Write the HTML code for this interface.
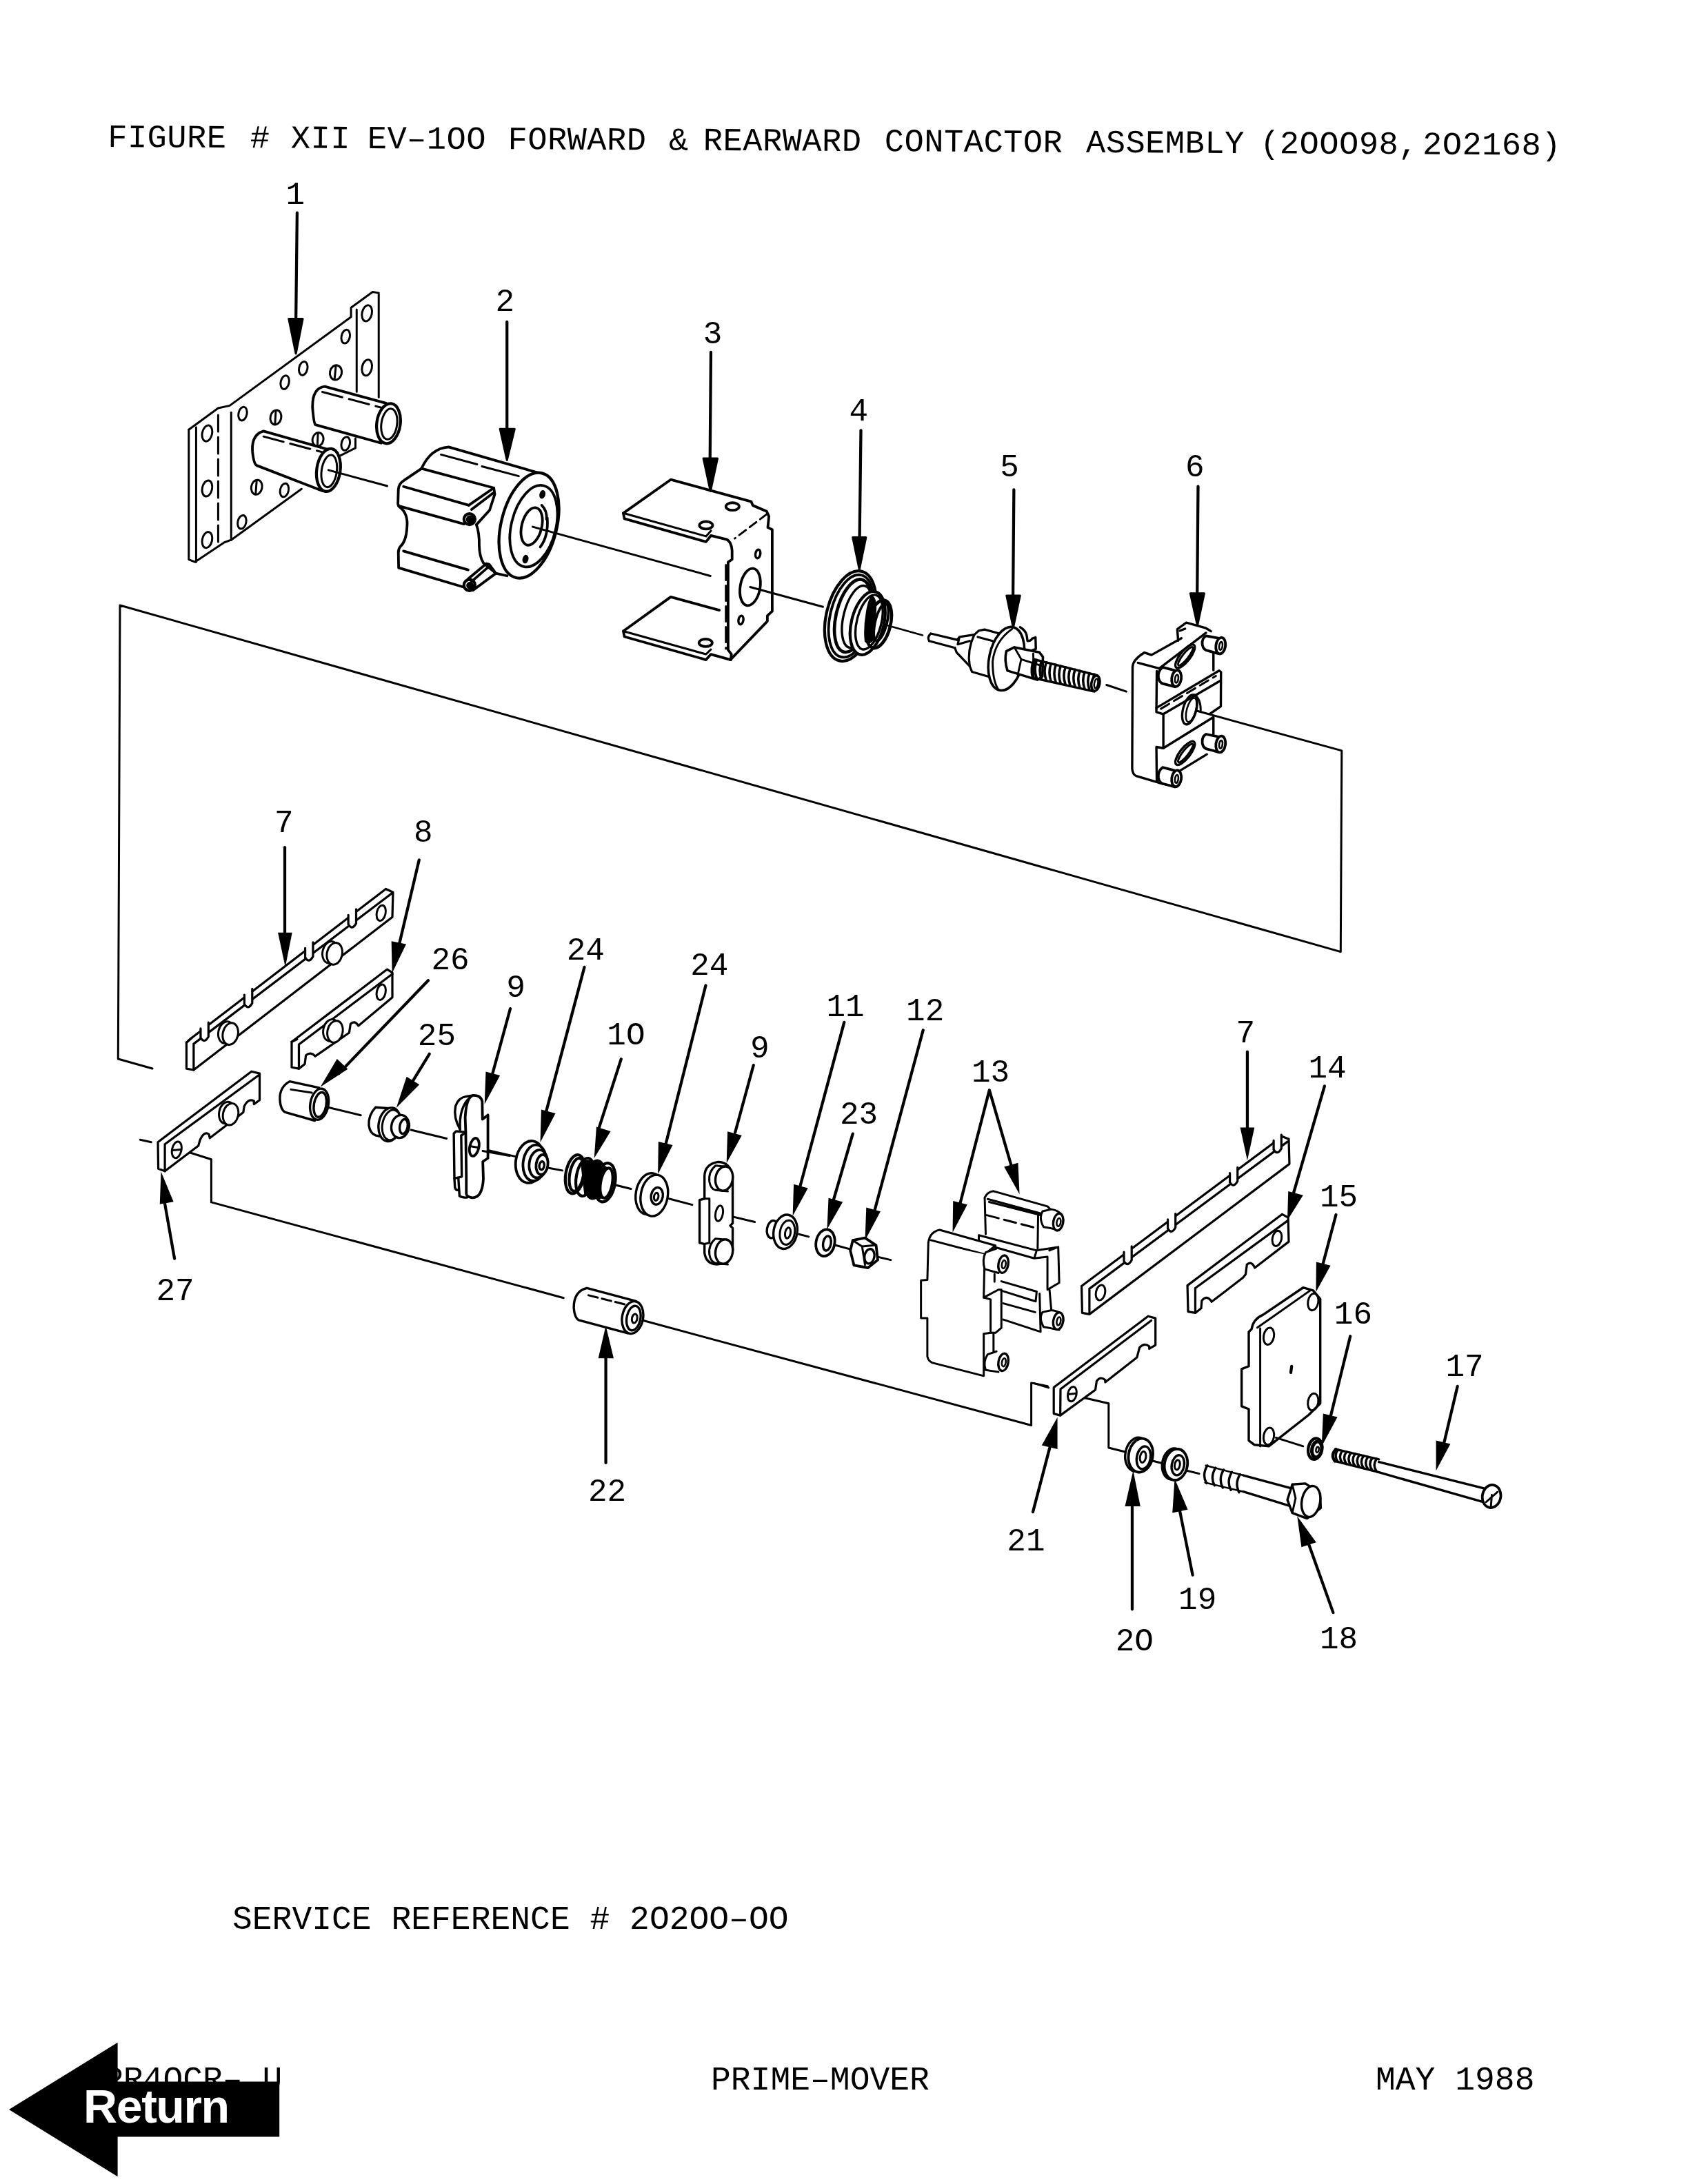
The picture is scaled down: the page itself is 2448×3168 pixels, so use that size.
<!DOCTYPE html>
<html><head><meta charset="utf-8">
<style>
html,body{margin:0;padding:0;background:#fff;}
body{width:2448px;height:3168px;position:relative;overflow:hidden;}
svg{position:absolute;left:0;top:0;will-change:transform;}
#drawing *{vector-effect:non-scaling-stroke}
.t{font-family:"Liberation Mono",monospace;fill:#000;}
</style></head><body>
<svg width="2448" height="3168" viewBox="0 0 2448 3168">
<g class="t" font-size="47">
<text x="156.2" y="213" transform="rotate(0.315 158 213)" letter-spacing="0.5"><tspan x="156.2">FIGURE</tspan><tspan x="362.8">#</tspan><tspan x="421.8">XII</tspan><tspan x="532.7">EV–1OO</tspan><tspan x="736.5">FORWARD</tspan><tspan x="970">&amp;</tspan><tspan x="1019.8">REARWARD</tspan><tspan x="1282.9">CONTACTOR</tspan><tspan x="1575">ASSEMBLY</tspan><tspan x="1827.2">(2OOO98,</tspan><tspan x="2063">2O2168)</tspan></text>
<text x="337" y="2798" font-size="48">SERVICE REFERENCE # 2O2OO–OO</text>
<text x="150" y="3031" font-size="48">PR4OCR– U</text>
<text x="1031" y="3031" font-size="48">PRIME–MOVER</text>
<text x="1995" y="3031" font-size="48">MAY 1988</text>
</g>
<!-- DRAWING -->
<g id="drawing" fill="none" stroke="#000" stroke-width="3" stroke-linecap="round" stroke-linejoin="round">

<!-- frames -->
<path d="M221 1550 L171.3 1536 L174 878 L1944.3 1380.6 L1945.8 1088.9 L1735.4 1031"/>
<path d="M272.6 1671 L306.4 1681.7 L306.4 1743.9 L817.3 1882.7"/>

<path d="M934 1915.8 L1495.6 2067.5 L1495.6 2005.9 L1519.3 2010.6"/>
<path d="M1562.2 2025.3 L1607.8 2035.7 L1607.8 2100 L1632.7 2106.2"/>

<!-- part 1 (tile A: 240,250 s=600/1688) -->
<g transform="translate(240,250) scale(0.35545)">
<path d="M537 165 L532 610" stroke-width="4.25"/>
<path d="M503 598 L560 598 L532 740 Z" fill="#000"/>
<path d="M95 1050 L215 962 L262 952 L757 590 L757 552 L845 488 L870 492 L870 918"/>
<path d="M780 560 L780 895 M775 1085 L775 1125 L705 1160"/>
<path d="M95 1050 L95 1580 L120 1590 L240 1510 L268 1500 L555 1292"/>
<path d="M125 1040 L125 1590"/>
<path d="M215 990 L215 1510" stroke-dasharray="24 8"/>
<path d="M268 980 L268 1500"/>
<g stroke-width="2.98">
<ellipse cx="315" cy="985" rx="17" ry="28" transform="rotate(12 315 985)"/>
<ellipse cx="450" cy="1000" rx="22" ry="30" transform="rotate(12 450 1000)"/>
<ellipse cx="487" cy="857" rx="17" ry="28" transform="rotate(12 487 857)"/>
<ellipse cx="562" cy="800" rx="17" ry="28" transform="rotate(12 562 800)"/>
<ellipse cx="695" cy="817" rx="24" ry="30" transform="rotate(12 695 817)"/>
<ellipse cx="735" cy="670" rx="17" ry="28" transform="rotate(12 735 670)"/>
<ellipse cx="622" cy="1090" rx="22" ry="28" transform="rotate(12 622 1090)"/>
<ellipse cx="735" cy="1107" rx="17" ry="28" transform="rotate(12 735 1107)"/>
<ellipse cx="372" cy="1285" rx="22" ry="30" transform="rotate(12 372 1285)"/>
<ellipse cx="485" cy="1297" rx="17" ry="28" transform="rotate(12 485 1297)"/>
<ellipse cx="312" cy="1427" rx="17" ry="28" transform="rotate(12 312 1427)"/>
<ellipse cx="822" cy="575" rx="20" ry="33" transform="rotate(12 822 575)"/>
<ellipse cx="822" cy="797" rx="20" ry="33" transform="rotate(12 822 797)"/>
<ellipse cx="170" cy="1065" rx="20" ry="33" transform="rotate(12 170 1065)"/>
<ellipse cx="170" cy="1290" rx="20" ry="33" transform="rotate(12 170 1290)"/>
<ellipse cx="170" cy="1500" rx="20" ry="33" transform="rotate(12 170 1500)"/>
<path d="M450 975 L447 1025 M695 792 L690 842 M622 1065 L620 1112 M372 1258 L368 1310"/>
</g>
<!-- upper cylinder -->
<path d="M900 942 L650 874 Q598 880 600 960 Q605 1025 612 1030 L880 1105" fill="#fff" stroke-width="3.82"/>
<ellipse cx="910" cy="1025" rx="48" ry="82" transform="rotate(8 910 1025)" fill="#fff" stroke-width="4.25"/>
<ellipse cx="913" cy="1027" rx="32" ry="63" transform="rotate(8 912 1025)"/>
<path d="M640 896 L880 960" stroke-dasharray="30 10"/>
<!-- lower cylinder -->
<path d="M660 1130 L400 1056 Q350 1070 355 1140 Q360 1190 372 1196 L640 1300" fill="#fff" stroke-width="3.82"/>
<ellipse cx="665" cy="1215" rx="48" ry="88" transform="rotate(8 665 1215)" fill="#fff" stroke-width="4.25"/>
<ellipse cx="668" cy="1219" rx="31" ry="66" transform="rotate(8 667 1217)"/>
<path d="M400 1078 L640 1142" stroke-dasharray="30 10"/>
<path d="M665 1215 L905 1280"/>
</g>

<!-- part 2 (tile B) -->
<g transform="translate(560,600) scale(0.20142)">
<path d="M870 -661 L870 110" stroke-width="4.25"/>
<path d="M820 110 L925 110 L870 335 Z" fill="#000"/>
<path d="M255 395 Q320 250 450 240 L1090 425" stroke-width="3.82"/>
<path d="M395 295 L655 365 M690 380 L955 450"/>
<path d="M255 395 L775 535" stroke-width="3.82"/>
<path d="M255 395 L130 480 Q90 505 88 545 L85 650 Q88 668 100 675 Q160 720 150 820 Q145 920 100 960 Q88 975 88 1000 L90 1110 L560 1250" stroke-width="3.82"/>
<path d="M125 525 L595 660 M90 665 L560 795 M125 990 L590 1125" stroke-width="3.82"/>
<path d="M595 660 L775 535 L782 580 L745 695 L650 800 M615 690 L770 572" stroke-width="3.82"/>
<circle cx="600" cy="760" r="40" stroke-width="4.25"/>
<circle cx="604" cy="762" r="22" fill="#000"/>
<path d="M650 800 Q672 860 670 950 Q672 1030 700 1075 L790 1150 L870 1168" stroke-width="3.82"/>
<path d="M590 1190 L722 1080 L742 1085 L790 1150 L625 1272 M612 1212 L732 1108" stroke-width="3.82"/>
<circle cx="600" cy="1235" r="40" stroke-width="4.25"/>
<circle cx="604" cy="1238" r="20" fill="#000"/>
<ellipse cx="1028" cy="805" rx="200" ry="388" transform="rotate(14 1028 805)" fill="#fff" stroke-width="4.25"/>
<ellipse cx="1062" cy="810" rx="160" ry="300" transform="rotate(14 1062 810)" stroke-width="3.82"/>
<ellipse cx="1048" cy="812" rx="72" ry="138" transform="rotate(14 1048 812)" stroke-width="3.82"/>
<path d="M1120 660 Q1160 700 1155 760 M1160 750 Q1170 880 1110 960" stroke-width="3.82"/>
<ellipse cx="1125" cy="582" rx="14" ry="24" transform="rotate(14 1125 582)" fill="#000"/>
<ellipse cx="1003" cy="1048" rx="14" ry="24" transform="rotate(14 1003 1048)" fill="#000"/>
<path d="M1055 815 L2335 1169"/>
</g>

<!-- part 3,4 (tile C) -->
<g transform="translate(800,450) scale(0.31991)">
<path d="M722 190 L718 680" stroke-width="4.25"/>
<path d="M688 672 L752 672 L720 820 Z" fill="#000"/>
<path d="M900 1255 L1230 1345"/>
<path d="M325 920 L540 768 L905 868 L912 885 L975 912 L985 935 L980 985 L1000 995 L1000 1365 L978 1385 L978 1410 L810 1585" stroke-width="3.82"/>
<path d="M325 920 L330 945 L700 1050 L722 1022 L795 1040 Q815 1050 818 1090 L818 1130 L800 1142 L800 1540 L815 1560 L812 1585" stroke-width="3.82"/>
<path d="M325 920 L700 1025 L722 1000" />
<path d="M975 925 L830 1035" stroke-dasharray="12 7"/>
<path d="M790 1155 L790 1535" stroke-dasharray="22 8"/>
<path d="M720 1205 L720 1020" stroke="none"/>
<path d="M325 1455 L540 1300 L760 1360" stroke-width="3.82"/>
<path d="M325 1455 L330 1480 L700 1585 L722 1560 L812 1585" stroke-width="3.82"/>
<path d="M325 1455 L700 1560 L722 1538"/>
<ellipse cx="820" cy="890" rx="30" ry="17" stroke-width="3.82"/>
<ellipse cx="700" cy="975" rx="30" ry="17" stroke-width="3.82"/>
<ellipse cx="698" cy="1508" rx="30" ry="17" stroke-width="3.82"/>
<ellipse cx="935" cy="1105" rx="11" ry="20" transform="rotate(10 935 1105)" stroke-width="3.40"/>
<ellipse cx="900" cy="1255" rx="45" ry="85" transform="rotate(10 900 1255)" stroke-width="3.82"/>
<ellipse cx="858" cy="1405" rx="11" ry="20" transform="rotate(10 858 1405)" stroke-width="3.40"/>
<path d="M1402 545 L1396 1030" stroke-width="4.25"/>
<path d="M1365 1030 L1425 1030 L1395 1175 Z" fill="#000"/>
</g>

<!-- part 4 (tile P4: 1190,820 s=1/14.067) -->
<g transform="translate(1190,820) scale(0.071089)">
<ellipse cx="610" cy="1035" rx="490" ry="940" transform="rotate(14 610 1035)" fill="#fff" stroke-width="4.25"/>
<ellipse cx="625" cy="1035" rx="425" ry="860" transform="rotate(14 625 1035)" stroke-width="3.82"/>
<ellipse cx="660" cy="1030" rx="340" ry="760" transform="rotate(14 660 1030)" stroke-width="4.67"/>
<ellipse cx="745" cy="1050" rx="275" ry="650" transform="rotate(14 745 1050)" stroke-width="3.40"/>
<ellipse cx="960" cy="1180" rx="330" ry="660" transform="rotate(14 960 1180)" fill="#fff" stroke-width="4.25"/>
<ellipse cx="990" cy="1160" rx="250" ry="570" transform="rotate(14 990 1160)" stroke-width="3.40"/>
<path d="M1040 620 Q1150 640 1140 900 L1100 1500 Q1000 1650 900 1560 Q870 1300 920 1000 Q960 700 1040 620 Z" fill="#000" stroke="none"/>
<ellipse cx="1190" cy="1200" rx="235" ry="500" transform="rotate(14 1190 1200)" stroke-width="4.67"/>
<ellipse cx="1235" cy="1160" rx="120" ry="390" transform="rotate(14 1235 1160)" stroke-width="3.82"/>
<path d="M1380 1230 L2082 1428" stroke-width="2.55"/>
</g>

<!-- part 5,6 (tile D) -->
<g transform="translate(1320,640) scale(0.31991)">
<path d="M470 220 L466 700" stroke-width="4.25"/>
<path d="M437 700 L498 700 L467 845 Z" fill="#000"/>
<path d="M1305 205 L1301 690" stroke-width="4.25"/>
<path d="M1270 690 L1333 690 L1302 835 Z" fill="#000"/>
<path d="M890 1105 L980 1135"/>
</g>

<!-- part 5 (tile P5: 1340,880 s=0.16588) -->
<g transform="translate(1340,880) scale(0.16588)" stroke-width="3.23">
<path d="M60 235 L290 290 M45 300 L270 360 M60 235 Q25 265 45 300"/>
<path d="M290 290 L310 265 L440 245 M270 360 L285 400 L400 520 M310 265 L295 330 L400 300"/>
<path d="M440 245 L480 210 L530 200 L660 235 M440 245 Q375 380 400 520 L420 570 L565 612 M470 265 L600 300"/>
<ellipse cx="720" cy="455" rx="150" ry="282" transform="rotate(12 720 455)" fill="#fff" stroke-width="3.57"/>
<path d="M770 195 Q620 300 600 480 Q600 650 650 725" stroke-width="2.89"/>
<path d="M840 180 Q885 205 898 250 L905 300 Q935 300 945 280 L975 268 L978 370 L945 382" fill="#fff" stroke-width="3.40"/>
<path d="M720 390 L790 355 L1010 400 L1040 440 L1035 610 L990 640 L730 560 Q700 470 720 390 Z" fill="#fff" stroke-width="3.57"/>
<path d="M790 355 L850 460 L820 595 M850 460 L1040 520 M955 410 L960 620" stroke-width="2.89"/>
<path d="M960 460 L1515 600 M950 622 L1490 742" stroke-width="3.40"/>
<path d="M985 466 Q957 546 985 626 M1027 477 Q999 556 1027 635 M1069 487 Q1041 566 1069 644 M1111 498 Q1083 575 1111 654 M1153 508 Q1125 585 1153 663 M1195 519 Q1167 595 1195 672 M1237 529 Q1209 605 1237 681 M1279 540 Q1251 615 1279 691 M1321 550 Q1293 625 1321 700 M1363 561 Q1335 635 1363 709 M1405 571 Q1377 645 1405 719 M1447 582 Q1419 654 1447 728 M1489 592 Q1461 664 1489 737" stroke-width="3.57"/>
<path d="M965 462 Q930 540 952 620" stroke-width="4.25"/>
<ellipse cx="1500" cy="670" rx="36" ry="68" transform="rotate(10 1500 670)" fill="#fff" stroke-width="3.57"/>
<ellipse cx="1505" cy="672" rx="16" ry="42" transform="rotate(10 1505 672)" stroke-width="2.55"/>
</g>

<!-- part 6 (tile D6: 1630,890 s=1/8.4) -->
<g transform="translate(1630,890) scale(0.119048)">
<path d="M105 650 Q110 560 250 475 L335 505 L700 300 M660 330 L650 190 L760 110 L1000 178 L1060 215" stroke-width="3.40"/>
<path d="M170 600 L430 668 L1000 235 M680 210 L745 185" stroke-width="3.40"/>
<path d="M105 650 L100 1890 Q105 1960 150 1980 L420 2060 L640 2110" stroke-width="3.40"/>
<path d="M400 700 L395 1200 L480 1225 L480 1640 L395 1625 L400 2050" stroke-width="3.40"/>
<path d="M395 1150 L1160 695 L1182 712 L1180 1130 L1050 1220 M480 1225 L1180 815" stroke-width="3.40"/>
<path d="M450 1160 L1120 760" stroke-dasharray="14 8" stroke-width="2.98"/>
<path d="M480 1640 L1090 1262 L1090 1470 M1090 480 L1090 690 M1010 1715 L690 1910" stroke-width="3.40"/>
<ellipse cx="800" cy="1170" rx="80" ry="185" transform="rotate(15 800 1170)" stroke-width="3.40"/>
<ellipse cx="820" cy="1175" rx="55" ry="150" transform="rotate(15 820 1175)" stroke-width="2.55"/>
<path d="M860 990 Q935 1040 935 1180" stroke-width="2.98"/>

<ellipse cx="745" cy="520" rx="62" ry="175" transform="rotate(38 745 520)" stroke-width="3.40"/>
<ellipse cx="750" cy="520" rx="35" ry="140" transform="rotate(38 750 520)" stroke-width="2.98"/>
<ellipse cx="745" cy="1700" rx="62" ry="175" transform="rotate(38 745 1700)" stroke-width="3.40"/>
<ellipse cx="750" cy="1700" rx="35" ry="140" transform="rotate(38 750 1700)" stroke-width="2.98"/>
<g stroke-width="3.82">
<path d="M1150 300 L1000 272 Q945 300 955 380 Q965 445 1030 455 L1150 488" fill="#fff"/>
<ellipse cx="1178" cy="392" rx="58" ry="100" transform="rotate(8 1178 392)" fill="#fff"/>
<ellipse cx="1180" cy="395" rx="20" ry="50" transform="rotate(8 1180 395)" stroke-width="2.55"/>
<path d="M610 690 L470 655 Q410 700 420 780 Q430 845 480 855 L620 892" fill="#fff"/>
<ellipse cx="640" cy="790" rx="58" ry="100" transform="rotate(8 640 790)" fill="#fff"/>
<ellipse cx="642" cy="795" rx="20" ry="50" transform="rotate(8 642 795)" stroke-width="2.55"/>
<path d="M1150 1500 L1000 1470 Q945 1500 955 1580 Q965 1645 1030 1655 L1150 1688" fill="#fff"/>
<ellipse cx="1178" cy="1592" rx="58" ry="100" transform="rotate(8 1178 1592)" fill="#fff"/>
<ellipse cx="1180" cy="1595" rx="20" ry="50" transform="rotate(8 1180 1595)" stroke-width="2.55"/>
<path d="M610 1910 L470 1875 Q410 1920 420 2000 Q430 2065 480 2075 L620 2112" fill="#fff"/>
<ellipse cx="640" cy="2010" rx="58" ry="100" transform="rotate(8 640 2010)" fill="#fff"/>
<ellipse cx="642" cy="2015" rx="20" ry="50" transform="rotate(8 642 2015)" stroke-width="2.55"/>
</g>
</g>

<!-- tile E: parts 7,8,26,25,9a,27 -->
<g transform="translate(150,1280) scale(0.35545)" stroke-width="2.98">
<path d="M740 -143 L740 210" stroke-width="4.25"/>
<path d="M712 205 L770 205 L742 345 Z" fill="#000" stroke="none"/>
<path d="M1288 -92 L1205 260" stroke-width="4.25"/>
<path d="M1175 240 L1235 252 L1178 370 Z" fill="#000" stroke="none"/>
<path d="M1325 400 L960 780" stroke-width="4.25"/>
<path d="M997 762 L953 720 L885 835 Z" fill="#000" stroke="none"/>
<path d="M1330 700 L1235 855" stroke-width="4.25"/>
<path d="M1289 825 L1237 793 L1195 920 Z" fill="#000" stroke="none"/>
<path d="M1660 515 L1585 790" stroke-width="4.25"/>
<path d="M1618 788 L1560 772 L1555 905 Z" fill="#000" stroke="none"/>
<path d="M290 1535 L245 1280" stroke-width="4.25"/>
<path d="M286 1303 L230 1313 L235 1180 Z" fill="#000" stroke="none"/>
<path d="M150 1050 L195 1060 M905 915 L1050 950 M1255 1010 L1400 1045 M1535 1085 L1688 1120"/>
<!-- part 7 -->
<g stroke-width="3.23">
<path d="M338.8 653.3 L338.8 760 L368.2 765.3 L1178.8 141.3 L1181.5 40 L1152.1 26.7 L360.2 634.6 Z" fill="#fff"/>
<path d="M368.2 658.6 L1178.8 42.7 M368.2 658.6 L368.2 765.3 M338.8 653.3 L360.2 634.6"/>
<path d="M396.5 587.7 L396.5 633.7 Q411.5 659.7 428.5 629.7 L428.5 563.7 Z" fill="#fff" stroke="none"/><path d="M575.1 450.6 L575.1 496.6 Q590.1 522.6 607.1 492.6 L607.1 426.6 Z" fill="#fff" stroke="none"/><path d="M823.1 260.2 L823.1 306.2 Q838.1 332.2 855.1 302.2 L855.1 236.2 Z" fill="#fff" stroke="none"/><path d="M999.1 125.1 L999.1 171.1 Q1014.1 197.1 1031.1 167.1 L1031.1 101.1 Z" fill="#fff" stroke="none"/>
<path d="M396.5 595.7 L396.5 633.7 Q411.5 659.7 428.5 629.7 L428.5 571.7"/><path d="M575.1 458.6 L575.1 496.6 Q590.1 522.6 607.1 492.6 L607.1 434.6"/><path d="M823.1 268.2 L823.1 306.2 Q838.1 332.2 855.1 302.2 L855.1 244.2"/><path d="M999.1 133.1 L999.1 171.1 Q1014.1 197.1 1031.1 167.1 L1031.1 109.1"/>
</g>
<ellipse cx="500" cy="612" rx="31" ry="45" transform="rotate(12 500 612)" fill="#fff"/>
<ellipse cx="518" cy="618" rx="31" ry="45" transform="rotate(12 518 618)" fill="#fff"/>
<ellipse cx="925" cy="285" rx="31" ry="45" transform="rotate(12 925 285)" fill="#fff"/>
<ellipse cx="943" cy="291" rx="31" ry="45" transform="rotate(12 943 291)" fill="#fff"/>
<ellipse cx="1133" cy="125" rx="18" ry="32" transform="rotate(12 1133 125)"/>
<!-- part 8 -->
<g stroke-width="3.23">
<path d="M768.1 650.6 L768.1 754.6 L797.5 760 L821.5 741.3 L826 706 Q845 688 864.2 709.3 L1002.8 613.3 L1008 578 Q1025 560 1040.1 585 L1178.8 469.3 L1178.8 368 L1157.5 354.6 Z" fill="#fff"/>
<path d="M797.5 661.3 L1178.8 373.3 M797.5 661.3 L797.5 760 M768.1 650.6 L790 640"/>
</g>
<ellipse cx="928" cy="603" rx="31" ry="45" transform="rotate(12 928 603)" fill="#fff"/>
<ellipse cx="945" cy="609" rx="31" ry="45" transform="rotate(12 945 609)" fill="#fff"/>
<ellipse cx="1133" cy="448" rx="18" ry="32" transform="rotate(12 1133 448)"/>
<!-- part 27 -->
<g stroke-width="3.23">
<path d="M222.3 1059.8 L224 1168.2 L250.7 1178.2 L387.3 1074.8 L394 1051.5 Q412 1012 430.7 1028.2 L434 1043.2 L570.7 938.2 L574 914.8 Q590 880 614 891.5 L614 904.8 L637.3 888.2 L637.3 779.8 L604 771.5 Z" fill="#fff"/>
<path d="M250.7 1068.2 L634 786.5 M250.7 1069.8 L250.7 1178.2"/>
</g>
<ellipse cx="503" cy="940" rx="31" ry="45" transform="rotate(12 503 940)" fill="#fff"/>
<ellipse cx="519" cy="946" rx="31" ry="45" transform="rotate(12 519 946)" fill="#fff"/>
<ellipse cx="299" cy="1091" rx="19" ry="34" transform="rotate(12 299 1091)"/>
<path d="M282 1093 L316 1090"/>
<!-- part 26 -->
<path d="M880 838 L760 812 Q718 835 720 885 Q722 928 742 938 L862 972" fill="#fff" stroke-width="3.40"/>
<ellipse cx="881" cy="905" rx="37" ry="64" transform="rotate(10 881 905)" fill="#fff" stroke-width="3.40"/>
<ellipse cx="884" cy="907" rx="25" ry="51" transform="rotate(10 884 907)" stroke-width="3.40"/>
<path d="M765 845 L850 858"/>
<!-- part 25 -->
<path d="M1165 922 L1110 918 Q1080 950 1083 992 Q1088 1025 1110 1032 L1165 1045" fill="#fff" stroke-width="3.40"/>
<ellipse cx="1168" cy="988" rx="45" ry="69" transform="rotate(10 1168 988)" fill="#fff" stroke-width="3.40"/>
<ellipse cx="1176" cy="990" rx="38" ry="62" transform="rotate(10 1176 990)"/>
<ellipse cx="1211" cy="996" rx="36" ry="47" transform="rotate(10 1211 996)" fill="#fff" stroke-width="3.40"/>
<ellipse cx="1225" cy="996" rx="16" ry="30" transform="rotate(10 1225 996)" stroke-width="3.40"/>
</g>

<!-- part 9a (tile P9: 640,1570 s=0.082418) -->
<g transform="translate(640,1570) scale(0.082418)" stroke-width="3.40">
<path d="M330 830 Q210 620 250 420 Q300 270 430 250 L560 230" fill="#fff"/>
<path d="M330 830 Q310 480 470 300" />
<path d="M230 1690 L240 1850 Q255 1905 300 1895 M300 1680 L320 2000 Q360 2035 460 2025" fill="#fff"/>
<path d="M220 900 L260 860 L440 880 L350 935 L360 1660 L230 1690 L220 900 Z" fill="#fff"/>
<path d="M430 880 L420 620 Q440 260 560 230 Q700 225 720 340 L725 650 L820 575 L820 1335 L730 1395 L740 1700 Q720 2040 540 2030 Q440 2010 440 1960 L440 1650 Z" fill="#fff" stroke-width="3.82"/>
<ellipse cx="580" cy="1140" rx="80" ry="160" transform="rotate(12 580 1140)" stroke-width="3.82"/>
<path d="M520 1125 L660 1150" stroke-width="2.98"/>
</g>

<!-- part 13 (tile G13: 1320,1720 s=0.14218) -->
<g transform="translate(1320,1720) scale(0.14218)" stroke-width="2.98">
<!-- rear block -->
<path d="M760 120 Q790 60 850 55 L1400 210 L1435 245 M760 120 L770 495 M790 135 L1340 285 M805 165 L1330 300 M1305 290 L1300 640"/>
<path d="M780 300 L1300 435" stroke-dasharray="18 8"/>
<path d="M700 505 L1290 660 L1265 740 L700 580 Z M1290 660 L1510 625 L1520 990 L1400 1060 L1400 725 L1265 740 M1510 625 L1420 660"/>
<path d="M930 975 L1290 1080 L1280 1180 L930 1070 M1320 1100 L1330 1490 L950 1365 M950 1200 L1275 1290 M1420 1050 L1440 1275"/>
<path d="M1350 260 L1440 240 Q1560 260 1560 360 L1520 450 L1360 420 Q1310 330 1350 260 Z" fill="#fff"/>
<ellipse cx="1510" cy="370" rx="50" ry="88" transform="rotate(10 1510 370)" fill="#fff" stroke-width="3.40"/>
<ellipse cx="1515" cy="372" rx="20" ry="42" transform="rotate(10 1515 372)" stroke-width="2.55"/>
<path d="M1350 1290 L1440 1270 Q1560 1280 1560 1380 L1520 1470 L1360 1440 Q1310 1350 1350 1290 Z" fill="#fff"/>
<ellipse cx="1510" cy="1380" rx="50" ry="88" transform="rotate(10 1510 1380)" fill="#fff" stroke-width="3.40"/>
<ellipse cx="1515" cy="1382" rx="20" ry="42" transform="rotate(10 1515 1382)" stroke-width="2.55"/>
<!-- front block -->
<path d="M185 580 Q200 470 300 450 L870 610 L760 700 L210 555" fill="#fff"/>
<path d="M185 580 L175 960 L110 965 L110 1350 L175 1350 L175 1740 Q185 1800 250 1812 L750 1940 L750 1510 L820 1500 L820 1160 L750 1140 L760 700" fill="#fff"/>
<path d="M750 1140 L900 1060 L930 1060 L930 1450 L870 1500 L820 1500 M850 1505 L850 1690 M860 900 L860 980"/>
<path d="M880 640 L770 680 Q730 760 760 850 L900 890" fill="#fff"/>
<ellipse cx="950" cy="800" rx="50" ry="90" transform="rotate(10 950 800)" fill="#fff" stroke-width="3.40"/>
<ellipse cx="955" cy="802" rx="20" ry="42" transform="rotate(10 955 802)" stroke-width="2.55"/>
<path d="M880 1690 L790 1720 Q740 1800 770 1880 L900 1900" fill="#fff"/>
<ellipse cx="950" cy="1800" rx="50" ry="90" transform="rotate(10 950 1800)" fill="#fff" stroke-width="3.40"/>
<ellipse cx="955" cy="1802" rx="20" ry="42" transform="rotate(10 955 1802)" stroke-width="2.55"/>
</g>

<!-- tile F: parts 24a,10,24b,9b,11,23,12 -->
<g transform="translate(700,1330) scale(0.35545)" stroke-width="2.98">
<path d="M0 955 L110 975 M270 1025 L325 1035 M545 1095 L605 1110 M760 1150 L855 1175 M985 1215 L1110 1245 M1290 1295 L1330 1305 M1440 1340 L1495 1355 M1600 1385 L1665 1400"/>
<path d="M415 205 L255 810" stroke-width="4.25"/>
<path d="M297 802 L239 786 L235 920 Z" fill="#000" stroke="none"/>
<path d="M565 580 L475 860" stroke-width="4.25"/>
<path d="M522 875 L464 857 L455 985 Z" fill="#000" stroke="none"/>
<path d="M910 280 L745 935" stroke-width="4.25"/>
<path d="M775 931 L717 917 L715 1050 Z" fill="#000" stroke="none"/>
<path d="M1105 605 L1030 880" stroke-width="4.25"/>
<path d="M1057 892 L999 876 L995 1005 Z" fill="#000" stroke="none"/>
<path d="M1475 430 L1295 1100" stroke-width="4.25"/>
<path d="M1327 1107 L1269 1091 L1265 1220 Z" fill="#000" stroke="none"/>
<path d="M1510 885 L1430 1160" stroke-width="4.25"/>
<path d="M1469 1163 L1411 1147 L1405 1275 Z" fill="#000" stroke="none"/>
<path d="M1797 462 L1600 1195" stroke-width="4.25"/>
<path d="M1623 1202 L1565 1186 L1560 1320 Z" fill="#000" stroke="none"/>
<!-- 24a -->
<ellipse cx="193" cy="1000" rx="58" ry="86" transform="rotate(8 193 1000)" fill="#fff" stroke-width="3.82"/>
<ellipse cx="212" cy="1004" rx="47" ry="74" transform="rotate(8 212 1004)" fill="#fff" stroke-width="3.82"/>
<ellipse cx="227" cy="1008" rx="37" ry="57" transform="rotate(8 227 1008)" fill="#fff" stroke-width="3.82"/>
<ellipse cx="242" cy="1011" rx="24" ry="41" transform="rotate(8 242 1011)" fill="#fff" stroke-width="3.82"/>
<ellipse cx="241" cy="1015" rx="10" ry="17" transform="rotate(8 241 1015)" stroke-width="3.40"/>
<!-- 10 spring -->
<g stroke-width="4.25">
<ellipse cx="377" cy="1050" rx="38" ry="80" transform="rotate(10 377 1050)" fill="#fff"/>
<ellipse cx="383" cy="1052" rx="28" ry="68" transform="rotate(10 383 1052)"/>
<path d="M405 1000 Q470 990 520 1040 L520 1130 Q470 1160 420 1130 Z" fill="#000"/>
<ellipse cx="418" cy="1062" rx="36" ry="78" transform="rotate(10 418 1062)"/>
<ellipse cx="458" cy="1072" rx="36" ry="78" transform="rotate(10 458 1072)"/>
<ellipse cx="500" cy="1084" rx="40" ry="80" transform="rotate(10 500 1084)"/>
<ellipse cx="505" cy="1086" rx="24" ry="62" transform="rotate(10 505 1086)" fill="#fff"/>
</g>
<!-- 24b -->
<ellipse cx="680" cy="1130" rx="55" ry="85" transform="rotate(10 680 1130)" fill="#fff" stroke-width="3.40"/>
<ellipse cx="700" cy="1137" rx="55" ry="85" transform="rotate(10 700 1137)" fill="#fff" stroke-width="3.40"/>
<ellipse cx="711" cy="1139" rx="24" ry="35" transform="rotate(10 711 1139)" stroke-width="3.40"/>
<ellipse cx="708" cy="1142" rx="9" ry="16" transform="rotate(10 708 1142)"/>
<!-- 9b -->
<path d="M960 1000 Q905 1010 905 1060 L905 1150 L885 1155 L885 1330 L905 1335 L905 1370 Q910 1415 955 1418 Q1015 1415 1020 1360 L1020 1270 L1010 1260 L1020 1250 L1020 1060 Q1010 1000 960 1000 Z" fill="#fff" stroke-width="3.40"/>
<path d="M905 1150 L925 1150 L925 1330 L905 1335"/>
<path d="M1000 1020 L950 1015 Q920 1040 925 1080 Q930 1110 950 1115 L1000 1120" fill="#fff"/>
<ellipse cx="985" cy="1068" rx="35" ry="50" transform="rotate(10 985 1068)" fill="#fff" stroke-width="3.40"/>
<path d="M1000 1318 L950 1313 Q920 1338 925 1378 Q930 1408 950 1413 L1000 1418" fill="#fff"/>
<ellipse cx="985" cy="1366" rx="35" ry="50" transform="rotate(10 985 1366)" fill="#fff" stroke-width="3.40"/>
<ellipse cx="965" cy="1210" rx="15" ry="32" transform="rotate(10 965 1210)"/>
<!-- 11 -->
<ellipse cx="1182" cy="1275" rx="22" ry="36" transform="rotate(10 1182 1275)" fill="#fff" stroke-width="3.40"/>
<ellipse cx="1235" cy="1285" rx="48" ry="70" transform="rotate(10 1235 1285)" fill="#fff" stroke-width="3.40"/>
<ellipse cx="1243" cy="1288" rx="30" ry="50" transform="rotate(10 1243 1288)"/>
<ellipse cx="1245" cy="1290" rx="11" ry="22" transform="rotate(10 1245 1290)"/>
<!-- 23 -->
<ellipse cx="1398" cy="1330" rx="38" ry="55" transform="rotate(10 1398 1330)" fill="#fff" stroke-width="3.82"/>
<ellipse cx="1405" cy="1332" rx="16" ry="30" transform="rotate(10 1405 1332)" stroke-width="3.40"/>
<!-- 12 -->
<path d="M1510 1320 L1560 1310 L1605 1340 L1612 1400 L1572 1432 L1515 1422 L1500 1362 Z" fill="#fff" stroke-width="3.82"/>
<path d="M1510 1320 L1548 1345 L1560 1420 M1548 1345 L1600 1340"/>
<ellipse cx="1578" cy="1385" rx="20" ry="30" transform="rotate(10 1578 1385)" stroke-width="3.40"/>
</g>

<!-- tile G: arrows 13 -->
<g transform="translate(1250,1400) scale(0.35545)">
<path d="M400 975 L520 510 L610 820" stroke-width="4.25"/>
<path d="M430 977 L372 962 L370 1091 Z M637 807 L580 823 L643 935 Z" fill="#000" stroke="none"/>
</g>

<!-- tile H: parts 7r,14,15,16,17,21 -->
<g transform="translate(1500,1480) scale(0.41469)" stroke-width="2.98">
<path d="M745 110 L745 380" stroke-width="4.25"/>
<path d="M720 375 L770 375 L745 490 Z" fill="#000" stroke="none"/>
<path d="M1015 230 L905 610" stroke-width="4.25"/>
<path d="M940 612 L888 598 L885 700 Z" fill="#000" stroke="none"/>
<path d="M1055 680 L1010 850" stroke-width="4.25"/>
<path d="M1036 858 L986 845 L985 950 Z" fill="#000" stroke="none"/>
<path d="M1105 1105 L1035 1390" stroke-width="4.25"/>
<path d="M1060 1388 L1010 1376 L1005 1490 Z" fill="#000" stroke="none"/>
<path d="M1480 1280 L1430 1490" stroke-width="4.25"/>
<path d="M1455 1482 L1405 1470 L1405 1575 Z" fill="#000" stroke="none"/>
<path d="M0 1270 L50 1285"/>
<!-- part 7r -->
<g stroke-width="3.23">
<path d="M165.3 929.8 L167.5 1023.5 L192.7 1028.1 L892.1 502.4 L889.8 415.5 L867 406.4 Z" fill="#fff"/>
<path d="M192.7 939 L885.3 424.7 M192.7 939 L192.7 1028.1"/>
<path d="M313.5 804.8 L313.5 842.8 Q326.5 864.8 340.5 838.8 L340.5 783.8 Z" fill="#fff" stroke="none"/><path d="M466.7 690.5 L466.7 728.5 Q479.7 750.5 493.7 724.5 L493.7 669.5 Z" fill="#fff" stroke="none"/><path d="M683.8 528.6 L683.8 566.6 Q696.8 588.6 710.8 562.6 L710.8 507.6 Z" fill="#fff" stroke="none"/><path d="M837.0 414.3 L837.0 452.3 Q850.0 474.3 864.0 448.3 L864.0 393.3 Z" fill="#fff" stroke="none"/>
<path d="M313.5 810.8 L313.5 842.8 Q326.5 864.8 340.5 838.8 L340.5 790.8"/><path d="M466.7 696.5 L466.7 728.5 Q479.7 750.5 493.7 724.5 L493.7 676.5"/><path d="M683.8 534.6 L683.8 566.6 Q696.8 588.6 710.8 562.6 L710.8 514.6"/><path d="M837.0 420.3 L837.0 452.3 Q850.0 474.3 864.0 448.3 L864.0 400.3"/>
</g>
<ellipse cx="231.5" cy="952.7" rx="16" ry="27" transform="rotate(12 231.5 952.7)"/>
<!-- part 14 -->
<g stroke-width="3.23">
<path d="M535.5 927.5 L537.8 1019 L563 1023.5 L583.5 1007.5 L585.8 980.1 Q601.8 960 617.8 980.1 L620.1 984.7 L729.8 900.1 L739 888.7 L743.5 854.4 Q759.6 840 771 865.8 L889.8 774.4 L887.6 689.8 L867 678.4 Z" fill="#fff"/>
<path d="M563 936.7 L885.3 701.3 M563 936.7 L563 1023.5"/>
</g>
<ellipse cx="848.7" cy="763" rx="16" ry="27" transform="rotate(12 848.7 763)"/>
<!-- part 15 -->
<path d="M760 1080 Q765 1045 800 1030 L940 935 L975 945 L1000 975 L1000 1340 L960 1380 L820 1490 L770 1485 L750 1470 L750 1360 L725 1350 L725 1220 L750 1210 L750 1090 Z" fill="#fff" stroke-width="3.40"/>
<path d="M790 1078 L790 1490 M780 1075 L965 945"/>
<ellipse cx="975" cy="985" rx="18" ry="30" transform="rotate(10 975 985)"/>
<ellipse cx="820" cy="1105" rx="18" ry="30" transform="rotate(10 820 1105)"/>
<ellipse cx="975" cy="1335" rx="18" ry="30" transform="rotate(10 975 1335)"/>
<ellipse cx="820" cy="1455" rx="18" ry="30" transform="rotate(10 820 1455)"/>
<path d="M900 1210 L897 1232" stroke-width="4.25"/>
<path d="M845 1460 L940 1490"/>
<!-- part 16 -->
<ellipse cx="982" cy="1499" rx="24" ry="37" transform="rotate(10 982 1499)" fill="#fff" stroke-width="4.25"/>
<ellipse cx="988" cy="1501" rx="17" ry="28" transform="rotate(10 988 1501)" stroke-width="5.10"/>
<ellipse cx="990" cy="1502" rx="5" ry="10" transform="rotate(10 990 1502)" stroke-width="2.55"/>
<!-- part 17 -->
<path d="M1205 1545 L1572 1637 M1201 1580 L1567 1684" stroke-width="3.40"/>
<path d="M1053 1500 L1205 1536 M1051 1542 L1201 1580" stroke-width="3.40"/>
<path d="M1062 1502 Q1046 1523 1062 1544 M1077 1506 Q1061 1527 1077 1548 M1092 1509 Q1076 1530 1092 1552 M1107 1513 Q1091 1534 1107 1556 M1122 1516 Q1106 1538 1122 1559 M1137 1520 Q1121 1541 1137 1563 M1152 1523 Q1136 1545 1152 1567 M1167 1527 Q1151 1548 1167 1570 M1182 1531 Q1166 1552 1182 1574 M1197 1534 Q1181 1556 1197 1578" stroke-width="3.40"/>
<path d="M1055 1500 Q1035 1520 1051 1542" stroke-width="4.25"/>
<ellipse cx="1599" cy="1665" rx="32" ry="40" transform="rotate(10 1599 1665)" fill="#fff" stroke-width="3.82"/>
<path d="M1580 1685 L1620 1650 M1600 1660 L1597 1698"/>
<!-- part 21 -->
<g stroke-width="3.23">
<path d="M68 1284 L68 1376 L90.8 1382 L213.6 1292.5 L218 1262 Q230.8 1244 248 1258 L248 1266 L359 1179 L368 1144.6 Q385 1126 402 1140.6 L402 1149 L423.7 1136 L423.7 1042 L397.9 1035 Z" fill="#fff"/>
<path d="M91.6 1290 L409 1050 M91.6 1290 L90.8 1382"/>
</g>
<ellipse cx="132.4" cy="1307.5" rx="15" ry="26" transform="rotate(12 132.4 1307.5)"/>
<path d="M119 1308 L146 1305"/>
</g>

<!-- tile I: parts 20,19,18, arrows -->
<g transform="translate(1450,2050) scale(0.47393)" stroke-width="2.98">
<path d="M405 600 L405 280" stroke-width="4.25"/>
<path d="M383 285 L430 285 L408 175 Z" fill="#000" stroke="none"/>
<path d="M590 495 L550 295" stroke-width="4.25"/>
<path d="M528 305 L575 295 L535 200 Z" fill="#000" stroke="none"/>
<path d="M1020 610 L945 400" stroke-width="4.25"/>
<path d="M923 410 L968 395 L910 315 Z" fill="#000" stroke="none"/>
<path d="M465 145 L505 155 M570 175 L610 185"/>
<ellipse cx="420" cy="126" rx="36" ry="52" transform="rotate(10 420 126)" fill="#fff" stroke-width="3.40"/>
<ellipse cx="431" cy="129" rx="37" ry="52" transform="rotate(10 431 129)" fill="#fff" stroke-width="3.82"/>
<ellipse cx="440" cy="136" rx="21" ry="35" transform="rotate(10 440 136)" stroke-width="3.40"/>
<ellipse cx="438" cy="134" rx="9" ry="17" transform="rotate(10 438 134)" stroke-width="2.98"/>
<ellipse cx="530" cy="155" rx="33" ry="48" transform="rotate(10 530 155)" fill="#fff" stroke-width="3.40"/>
<ellipse cx="539" cy="157" rx="35" ry="48" transform="rotate(10 539 157)" fill="#fff" stroke-width="3.82"/>
<ellipse cx="545" cy="159" rx="19" ry="31" transform="rotate(10 545 159)" stroke-width="3.40"/>
<ellipse cx="543" cy="158" rx="8" ry="15" transform="rotate(10 543 158)" stroke-width="2.98"/>
<!-- part 18 -->
<path d="M745 190 L900 232 M745 240 L892 285" stroke-width="3.40"/>
<path d="M630 160 L745 190 M628 212 L745 240" stroke-width="2.55"/>
<path d="M635 160 Q618 188 632 214 M660 167 Q643 195 657 221 M685 173 Q668 201 682 228 M710 180 Q693 208 707 235 M735 187 Q718 215 732 242" stroke-width="3.40"/>
<path d="M895 218 L935 215 L980 245 L982 290 L940 322 L895 305 L880 265 Z" fill="#fff" stroke-width="3.40"/>
<ellipse cx="952" cy="270" rx="28" ry="48" transform="rotate(10 952 270)" fill="#fff" stroke-width="3.40"/>
<path d="M895 218 L905 260 L895 305"/>
</g>

<!-- tile J: part 22 -->
<g transform="translate(780,1840) scale(0.47393)" stroke-width="2.98">
<path d="M208 595 L208 270" stroke-width="4.25"/>
<path d="M185 275 L232 275 L208 175 Z" fill="#000" stroke="none"/>
<path d="M300 100 L150 60 Q110 70 110 120 Q112 150 125 158 L275 198" fill="#fff" stroke-width="3.40"/>
<ellipse cx="290" cy="150" rx="32" ry="50" transform="rotate(10 290 150)" fill="#fff" stroke-width="3.40"/>
<ellipse cx="293" cy="152" rx="21" ry="38" transform="rotate(10 293 152)" stroke-width="3.40"/>
<ellipse cx="296" cy="153" rx="8" ry="14" transform="rotate(10 296 153)"/>
<path d="M155 82 L275 112" stroke-dasharray="14 6"/>
<path d="M1515 745 L1566 550" stroke-width="4.25"/>
<path d="M1590 553 L1542 541 L1590 455 Z" fill="#000" stroke="none"/>
</g>

<!-- labels -->
<g class="t" font-size="46" text-anchor="middle" stroke="none" fill="#000">
<text x="428.4" y="296.2">1</text>
<text x="732.3" y="450.8">2</text>
<text x="1033.5" y="498.0">3</text>
<text x="1245.3" y="610.0">4</text>
<text x="1464.0" y="691.2">5</text>
<text x="1732.7" y="691.2">6</text>
<text x="411.9" y="1207.3">7</text>
<text x="613.9" y="1220.6">8</text>
<text x="653.0" y="1406.2">26</text>
<text x="633.4" y="1516.4">25</text>
<text x="748.0" y="1445.5">9</text>
<text x="849.3" y="1392.2">24</text>
<text x="907.9" y="1514.8">1O</text>
<text x="1028.8" y="1413.5">24</text>
<text x="1101.7" y="1534.4">9</text>
<text x="1226.1" y="1474.0">11</text>
<text x="1245.6" y="1630.4">23</text>
<text x="1341.7" y="1480.0">12</text>
<text x="1436.6" y="1568.8">13</text>
<text x="1806.3" y="1512.0">7</text>
<text x="1925.1" y="1562.9">14</text>
<text x="1941.6" y="1749.5">15</text>
<text x="1962.4" y="1919.6">16</text>
<text x="2124.1" y="1996.3">17</text>
<text x="880.5" y="2176.5">22</text>
<text x="1487.9" y="2249.1">21</text>
<text x="1645.3" y="2393.6">2O</text>
<text x="1736.7" y="2334.4">19</text>
<text x="1941.5" y="2391.2">18</text>
<text x="254" y="1886">27</text>
</g>

</g>
<!-- RETURN ARROW -->
<path d="M13 3060 L170.6 2962.7 L170.6 3019.4 L405.2 3019.4 L405.2 3099.4 L170.6 3099.4 L170.6 3157.3 Z" fill="#000"/>
<text x="121" y="3078.6" font-family="Liberation Sans" font-weight="bold" font-size="68" letter-spacing="-1.4" fill="#fff">Return</text>
</svg>
</body></html>
